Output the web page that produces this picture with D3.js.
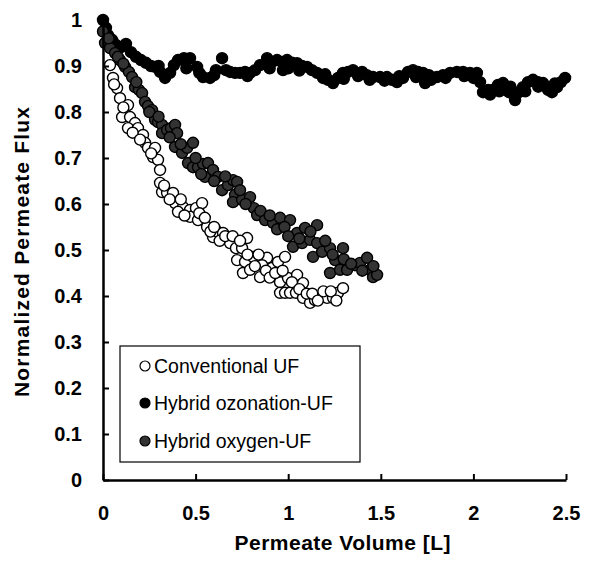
<!DOCTYPE html>
<html>
<head>
<meta charset="utf-8">
<script src="https://cdn.jsdelivr.net/npm/d3@7/dist/d3.min.js"></script>
<style>
  body { margin: 0; background: #fff; }
  svg { display: block; font-family: "Liberation Sans", Arial, sans-serif; }
</style>
</head>
<body>
<div id="chart"></div>
<script>
// Permeate volume [L] / normalized flux
var seriesNames = ["Conventional UF", "Hybrid ozonation-UF", "Hybrid oxygen-UF"];
var xTicks = [0, 0.5, 1, 1.5, 2, 2.5];
var yTicks = [0, 0.1, 0.2, 0.3, 0.4, 0.5, 0.6, 0.7, 0.8, 0.9, 1];

var ozonation = [
	[0, 1.0], [0.016, 0.983], [0.027, 0.967], [0.049, 0.957], [0.07, 0.946], [0.097, 0.941],
	[0.124, 0.948], [0.151, 0.93], [0.178, 0.92], [0.205, 0.913], [0.232, 0.907], [0.259, 0.9],
	[0.281, 0.898], [0.308, 0.887], [0.335, 0.874], [0.362, 0.885], [0.383, 0.902], [0.405, 0.913],
	[0.437, 0.917], [0.47, 0.917], [0.508, 0.898], [0.54, 0.876], [0.578, 0.874], [0.61, 0.891],
	[0.643, 0.917], [0.664, 0.891], [0.686, 0.887], [0.713, 0.885], [0.74, 0.885], [0.767, 0.887],
	[0.794, 0.885], [0.821, 0.891], [0.848, 0.902], [0.886, 0.917], [0.913, 0.909], [0.94, 0.913],
	[0.967, 0.909], [0.994, 0.913], [0.972, 0.891], [1.021, 0.907], [1.048, 0.906], [1.075, 0.9],
	[1.102, 0.898], [1.128, 0.891], [1.156, 0.885], [1.188, 0.874], [1.215, 0.87], [1.242, 0.863],
	[1.269, 0.874], [1.296, 0.885], [1.323, 0.887], [1.35, 0.891], [1.377, 0.878], [1.399, 0.887],
	[1.425, 0.88], [1.458, 0.876], [1.496, 0.876], [1.533, 0.876], [1.56, 0.87], [1.587, 0.865],
	[1.62, 0.874], [1.647, 0.887], [1.674, 0.891], [1.701, 0.887], [1.728, 0.885], [1.739, 0.863],
	[1.771, 0.87], [1.803, 0.876], [1.836, 0.88], [1.874, 0.885], [1.911, 0.887], [1.944, 0.887],
	[1.982, 0.885], [2.019, 0.885], [2.036, 0.865], [2.052, 0.843], [2.079, 0.848], [2.106, 0.848],
	[2.133, 0.859], [2.16, 0.863], [2.192, 0.843], [2.225, 0.826], [2.246, 0.843], [2.268, 0.854],
	[2.295, 0.865], [2.322, 0.87], [2.349, 0.865], [2.376, 0.863], [2.403, 0.848], [2.424, 0.843],
	[2.451, 0.854], [2.473, 0.865], [2.495, 0.874],
	[0.3, 0.9], [0.45, 0.895], [0.52, 0.885], [0.6, 0.88], [0.78, 0.878], [0.9, 0.895],
	[1.0, 0.895], [1.06, 0.89], [1.2, 0.882], [1.3, 0.872], [1.44, 0.87], [1.52, 0.868],
	[1.6, 0.878], [1.69, 0.876], [1.76, 0.88], [1.85, 0.874], [1.95, 0.878], [2.0, 0.874],
	[2.09, 0.838], [2.14, 0.845], [2.2, 0.855], [2.28, 0.845], [2.35, 0.855], [2.44, 0.862]
];

var oxygen = [
	[0, 0.975], [0.011, 0.95], [0.038, 0.939], [0.065, 0.928], [0.092, 0.913], [0.119, 0.898],
	[0.14, 0.887], [0.157, 0.876], [0.173, 0.854], [0.194, 0.848], [0.211, 0.841], [0.227, 0.822],
	[0.243, 0.813], [0.265, 0.804], [0.281, 0.783], [0.297, 0.778], [0.319, 0.772], [0.319, 0.754],
	[0.346, 0.761], [0.367, 0.765], [0.389, 0.772], [0.4, 0.754], [0.389, 0.724], [0.427, 0.711],
	[0.454, 0.722], [0.486, 0.733], [0.459, 0.689], [0.486, 0.68], [0.513, 0.68], [0.54, 0.687],
	[0.567, 0.689], [0.551, 0.659], [0.594, 0.674], [0.621, 0.659], [0.643, 0.63], [0.675, 0.641],
	[0.702, 0.652], [0.724, 0.648], [0.713, 0.62], [0.702, 0.604], [0.751, 0.609], [0.794, 0.615],
	[0.815, 0.591], [0.832, 0.576], [0.875, 0.565], [0.918, 0.559], [0.956, 0.57], [1.01, 0.565],
	[1.048, 0.537], [1.091, 0.548], [1.156, 0.554], [1.026, 0.507], [1.075, 0.515], [1.118, 0.522],
	[1.156, 0.515], [1.134, 0.485], [1.183, 0.496], [1.226, 0.504], [1.296, 0.504], [1.253, 0.478],
	[1.226, 0.45], [1.28, 0.457], [1.318, 0.457], [1.361, 0.467], [1.388, 0.472], [1.426, 0.483],
	[1.442, 0.457], [1.458, 0.441], [1.48, 0.446],
	[0.03, 0.96], [0.08, 0.92], [0.11, 0.905], [0.18, 0.865], [0.25, 0.8], [0.3, 0.79],
	[0.36, 0.745], [0.42, 0.73], [0.5, 0.7], [0.53, 0.665], [0.6, 0.65], [0.66, 0.66],
	[0.74, 0.63], [0.77, 0.6], [0.85, 0.585], [0.9, 0.575], [0.94, 0.545], [0.98, 0.55],
	[1.0, 0.53], [1.06, 0.525], [1.12, 0.54], [1.2, 0.52], [1.24, 0.49], [1.3, 0.48],
	[1.34, 0.47], [1.4, 0.455], [1.46, 0.465]
];

var conventional = [
	[0.038, 0.902], [0.054, 0.874], [0.076, 0.852], [0.092, 0.83], [0.135, 0.815], [0.103, 0.789],
	[0.146, 0.789], [0.173, 0.776], [0.135, 0.765], [0.189, 0.765], [0.216, 0.75], [0.227, 0.733],
	[0.243, 0.722], [0.281, 0.722], [0.27, 0.702], [0.297, 0.696], [0.308, 0.674], [0.308, 0.646],
	[0.319, 0.626], [0.346, 0.624], [0.378, 0.624], [0.389, 0.602], [0.432, 0.593], [0.405, 0.583],
	[0.47, 0.587], [0.502, 0.591], [0.535, 0.602], [0.47, 0.572], [0.513, 0.565], [0.562, 0.55],
	[0.594, 0.528], [0.621, 0.539], [0.648, 0.537], [0.686, 0.515], [0.718, 0.504], [0.778, 0.526],
	[0.751, 0.504], [0.724, 0.478], [0.767, 0.474], [0.81, 0.485], [0.756, 0.45], [0.794, 0.457],
	[0.848, 0.441], [0.886, 0.483], [0.859, 0.467], [0.913, 0.461], [0.945, 0.474], [0.983, 0.485],
	[0.956, 0.43], [0.999, 0.439], [1.048, 0.446], [1.08, 0.428], [0.956, 0.407], [0.983, 0.407],
	[1.01, 0.407], [1.042, 0.407], [1.08, 0.396], [1.118, 0.385], [1.145, 0.391], [1.172, 0.396],
	[1.21, 0.396], [1.242, 0.396], [1.269, 0.407], [1.296, 0.417],
	[0.06, 0.86], [0.11, 0.81], [0.16, 0.755], [0.2, 0.74], [0.26, 0.71], [0.33, 0.64],
	[0.36, 0.61], [0.42, 0.61], [0.44, 0.575], [0.52, 0.58], [0.55, 0.57], [0.58, 0.54],
	[0.6, 0.55], [0.63, 0.52], [0.66, 0.53], [0.7, 0.53], [0.74, 0.52], [0.78, 0.49],
	[0.82, 0.465], [0.84, 0.49], [0.88, 0.455], [0.9, 0.44], [0.93, 0.45], [0.97, 0.455],
	[1.02, 0.43], [1.06, 0.415], [1.1, 0.405], [1.13, 0.405], [1.16, 0.39], [1.19, 0.41],
	[1.23, 0.41], [1.26, 0.39]
];

var width = 592, height = 568;
var margin = { left: 103, right: 26, top: 20, bottom: 88 };

var svg = d3.select("#chart").append("svg")
	.attr("width", width)
	.attr("height", height);

var x = d3.scaleLinear().domain([0, 2.5]).range([margin.left, width - margin.right]);
var y = d3.scaleLinear().domain([0, 1]).range([height - margin.bottom, margin.top]);

// points: black, then gray, then open circles on top
var styles = [
	{ data: ozonation, fill: "#000" },
	{ data: oxygen, fill: "#333" },
	{ data: conventional, fill: "#fff" }
];

styles.forEach(function (s) {
	svg.append("g")
		.selectAll("circle")
		.data(s.data)
		.enter().append("circle")
		.attr("cx", function (d) { return x(d[0]); })
		.attr("cy", function (d) { return y(d[1]); })
		.attr("r", 5.5)
		.attr("fill", s.fill)
		.attr("stroke", "#000")
		.attr("stroke-width", 1.4);
});

// axes (ticks point inward)
var xAxis = d3.axisBottom(x).tickValues(xTicks).tickSizeInner(-6).tickSizeOuter(0).tickPadding(26)
	.tickFormat(d3.format("~g"));
var yAxis = d3.axisLeft(y).tickValues(yTicks).tickSizeInner(-6).tickSizeOuter(0).tickPadding(21)
	.tickFormat(d3.format("~g"));

var gx = svg.append("g").attr("transform", "translate(0," + y(0) + ")").call(xAxis);
var gy = svg.append("g").attr("transform", "translate(" + x(0) + ",0)").call(yAxis);

[gx, gy].forEach(function (g) {
	g.select(".domain").attr("stroke", "#000").attr("stroke-width", 2.5);
	g.selectAll(".tick line").attr("stroke", "#000").attr("stroke-width", 2);
	g.selectAll(".tick text")
		.attr("fill", "#000")
		.style("font-size", "20px")
		.style("font-weight", "bold")
		.style("font-family", "'Liberation Sans', Arial, sans-serif");
});

// axis titles
svg.append("text")
	.attr("x", (x(0) + x(2.5)) / 2 + 8)
	.attr("y", 550)
	.attr("text-anchor", "middle")
	.attr("textLength", 216)
	.style("font-size", "21px")
	.style("font-weight", "bold")
	.text("Permeate Volume [L]");

svg.append("text")
	.attr("transform", "translate(29,252) rotate(-90)")
	.attr("text-anchor", "middle")
	.attr("textLength", 290)
	.style("font-size", "21px")
	.style("font-weight", "bold")
	.text("Normalized Permeate Flux");

// legend
var legend = svg.append("g");
legend.append("rect")
	.attr("x", 120).attr("y", 346)
	.attr("width", 240).attr("height", 116)
	.attr("fill", "#fff")
	.attr("stroke", "#000")
	.attr("stroke-width", 1.2);

var legendFills = ["#fff", "#000", "#333"];
var legendY = [366, 403, 441];

seriesNames.forEach(function (name, i) {
	legend.append("circle")
		.attr("cx", 145).attr("cy", legendY[i])
		.attr("r", 5)
		.attr("fill", legendFills[i])
		.attr("stroke", "#000")
		.attr("stroke-width", 1.2);
	legend.append("text")
		.attr("x", 154).attr("y", legendY[i] + 7)
		.style("font-size", "19.5px")
		.text(name);
});
</script>
</body>
</html>
